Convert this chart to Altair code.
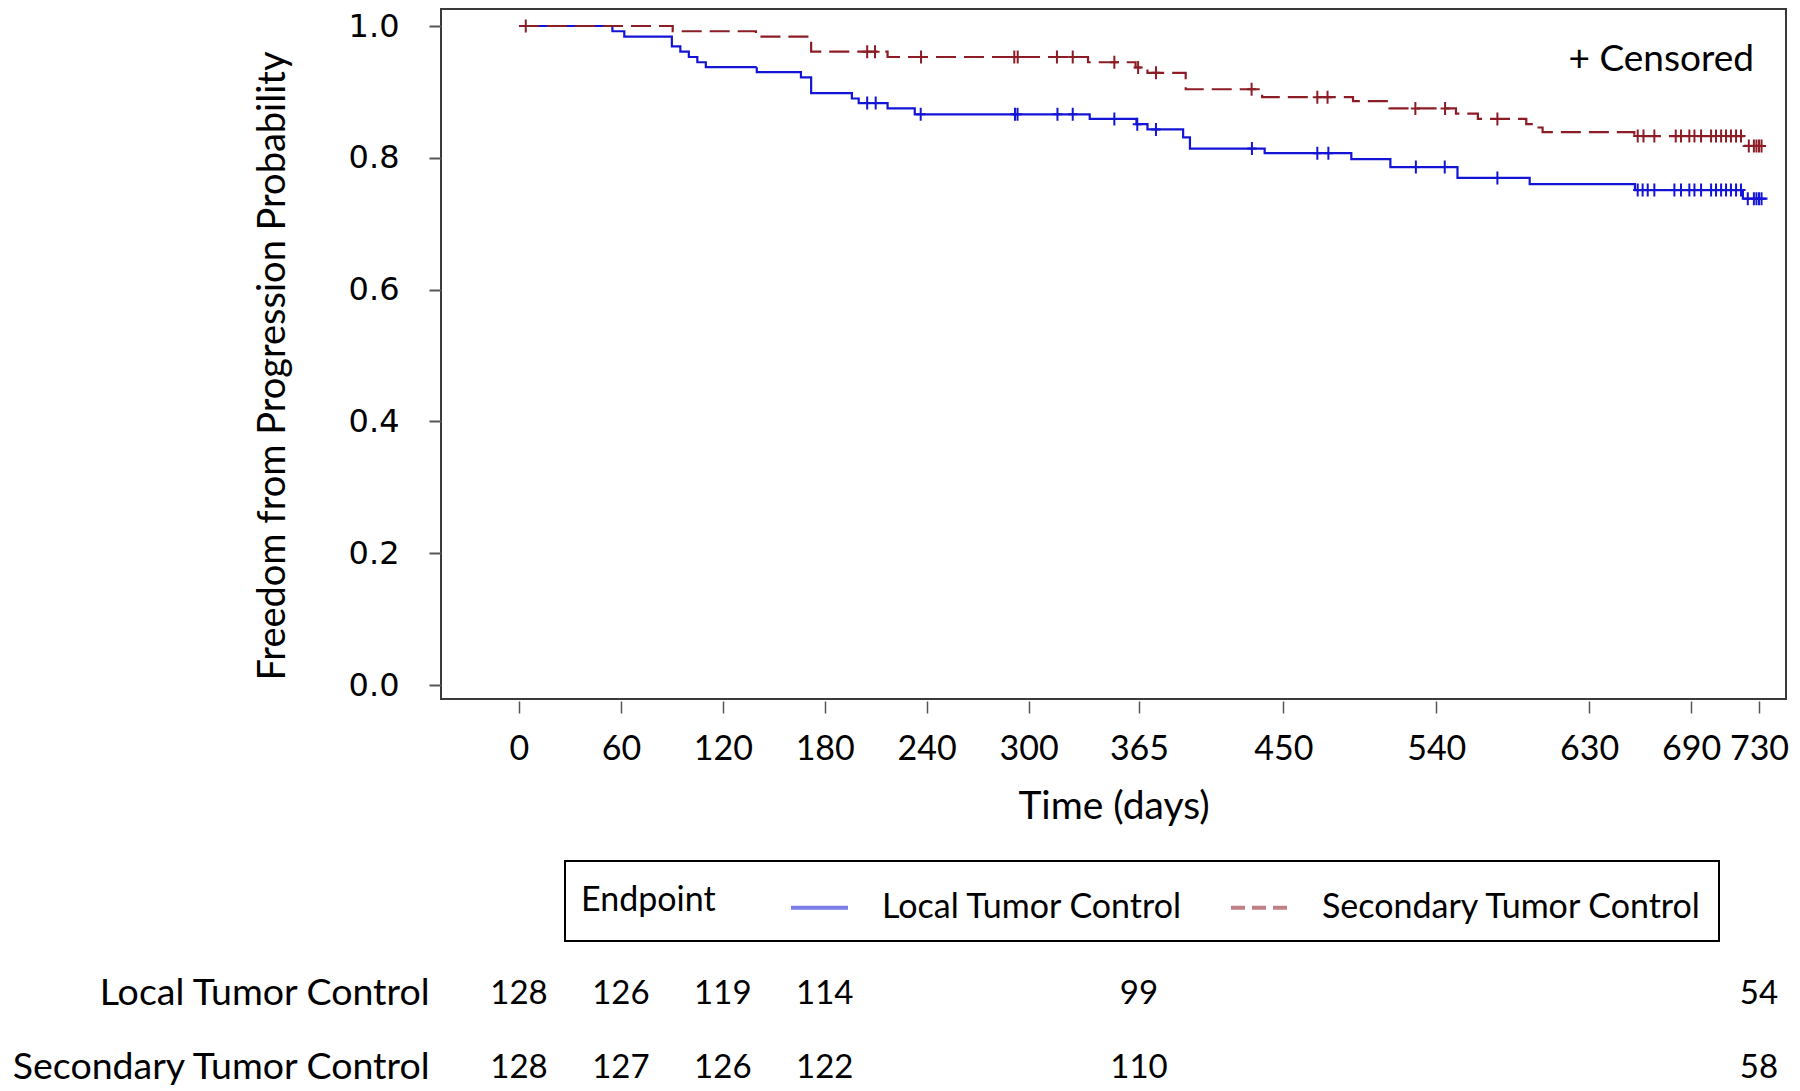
import altair as alt
import pandas as pd

FONT = "Lato"

series_names = ["Local Tumor Control", "Secondary Tumor Control"]
series_colors = ["#1414d6", "#8c1c26"]

# Kaplan-Meier step points: day of step, survival probability after the step
local_days = [0, 55, 62, 90, 95, 100, 105, 110, 140, 166, 172, 196, 200, 217, 233,
              336, 363.5, 370, 391, 395, 439, 490, 513, 552.5, 595, 657, 720.5, 735]
local_surv = [1.0, 0.992, 0.984, 0.969, 0.961, 0.953, 0.945, 0.9375, 0.930, 0.922, 0.898,
              0.890, 0.883, 0.875, 0.866, 0.859, 0.851, 0.843, 0.831, 0.814, 0.807, 0.798,
              0.786, 0.7695, 0.760, 0.751, 0.738, 0.738]
local_censor = [205, 210, 236.5, 292, 293.5, 317, 326, 350.5, 364, 375, 431.5, 470, 476.5,
                528, 545, 576, 658.6, 661.5, 664.5, 668.4, 680.2, 684.1, 689, 692, 695.9,
                701.8, 704.7, 707.7, 710.6, 713.5, 716.5, 719.4, 723.4, 727, 728.5, 730, 731.5]

sec_days = [0, 90.5, 139.5, 172, 217, 335, 363, 370, 392.5, 437.5, 491, 512.5, 551.6,
            564.5, 593, 599, 602.6, 656.6, 721, 735]
sec_surv = [1.0, 0.992, 0.984, 0.961, 0.953, 0.945, 0.937, 0.929, 0.904, 0.892, 0.886,
            0.875, 0.867, 0.859, 0.851, 0.846, 0.839, 0.833, 0.818, 0.818]
sec_censor = [4, 205, 209.6, 236.7, 291.6, 293.6, 316.7, 326, 350.5, 364.5, 375, 431.3,
              470, 476, 527.7, 545.2, 576, 658.6, 662, 668.4, 681, 684.1, 689, 692, 695.9,
              701.8, 704.7, 707.7, 710.6, 713.5, 716.5, 719.4, 724, 727, 728.5, 730, 731.5]

# Number at risk table
risk_days = [0, 60, 120, 180, 365, 730]
local_risk = [128, 126, 119, 114, 99, 54]
sec_risk = [128, 127, 126, 122, 110, 58]

x_tick_values = [0, 60, 120, 180, 240, 300, 365, 450, 540, 630, 690, 730]
y_tick_values = [0.0, 0.2, 0.4, 0.6, 0.8, 1.0]

annot_day = 727
annot_surv = 0.948
annot_text = "+ Censored"


def surv_at(days, surv, t):
    val = surv[0]
    for d, s in zip(days, surv):
        if d <= t:
            val = s
    return val


line_rows = []
for name, days, surv in [(series_names[0], local_days, local_surv),
                         (series_names[1], sec_days, sec_surv)]:
    for d, s in zip(days, surv):
        line_rows.append({"endpoint": name, "day": d, "surv": s})
lines_df = pd.DataFrame(line_rows)

cens_rows = []
for name, days, surv, cens in [(series_names[0], local_days, local_surv, local_censor),
                               (series_names[1], sec_days, sec_surv, sec_censor)]:
    for c in cens:
        cens_rows.append({"endpoint": name, "day": c, "surv": surv_at(days, surv, c)})
cens_df = pd.DataFrame(cens_rows)

risk_rows = []
for name, counts in [(series_names[0], local_risk), (series_names[1], sec_risk)]:
    for d, n in zip(risk_days, counts):
        risk_rows.append({"endpoint": name, "day": d, "n": n})
risk_df = pd.DataFrame(risk_rows)

annot_df = pd.DataFrame({"day": [annot_day], "surv": [annot_surv], "t": [annot_text]})

x_scale = alt.Scale(domain=[-45.9, 745.9], nice=False, zero=False)
y_scale = alt.Scale(domain=[-0.02124, 1.0258], nice=False, zero=False)
color_scale = alt.Scale(domain=series_names, range=series_colors)
dash_scale = alt.Scale(domain=series_names, range=[[1, 0], [14, 7]])

legend = alt.Legend(
    title="Endpoint", orient="none", legendX=124, legendY=-118, direction="horizontal",
    titleOrient="left", titleFont=FONT, titleFontSize=34, titleFontWeight="normal",
    titleColor="black", titlePadding=73, labelFont=FONT, labelFontSize=34,
    labelColor="black", labelLimit=800, labelOffset=32, columnPadding=40,
    symbolType="stroke", symbolSize=3249, symbolStrokeWidth=4, symbolOpacity=0.55,
    strokeColor="black", padding=16,
)

x_axis = alt.Axis(
    values=x_tick_values, format="d", title="Time (days)", titleFont=FONT,
    titleFontSize=39, titleFontWeight="normal", titleColor="black", titlePadding=21,
    labelFont=FONT, labelFontSize=34, labelColor="black", labelPadding=19,
    labelFlush=False, labelOverlap=False, tickSize=12, tickColor="#555555",
    tickWidth=1.5, offset=2, domain=False, grid=False,
)
y_axis = alt.Axis(
    values=y_tick_values, format=".1f", title="Freedom from Progression Probability",
    titleFont=FONT, titleFontSize=38, titleFontWeight="normal", titleColor="black",
    titlePadding=56, titleY=356.5, labelFont="DejaVu Sans", labelFontSize=32,
    labelColor="black", labelPadding=30, tickSize=12, tickColor="#555555", tickWidth=2,
    domain=False, grid=False,
)

lines = alt.Chart(lines_df).mark_line(interpolate="step-after", strokeWidth=2.2).encode(
    x=alt.X("day:Q", scale=x_scale, axis=x_axis),
    y=alt.Y("surv:Q", scale=y_scale, axis=y_axis),
    color=alt.Color("endpoint:N", scale=color_scale, legend=None),
    strokeDash=alt.StrokeDash("endpoint:N",
                              scale=alt.Scale(domain=series_names, range=[[1, 0], [20, 8]]),
                              legend=None),
)

censors = alt.Chart(cens_df).mark_point(
    shape="M0,-1L0,1M-0.7,0L0.7,0", filled=False, size=169, strokeWidth=2, opacity=1
).encode(
    x=alt.X("day:Q", scale=x_scale),
    y=alt.Y("surv:Q", scale=y_scale),
    stroke=alt.Stroke("endpoint:N", scale=color_scale, legend=None),
)

annot = alt.Chart(annot_df).mark_text(
    align="right", baseline="middle", font=FONT, fontSize=37, color="black"
).encode(
    x=alt.X("day:Q", scale=x_scale),
    y=alt.Y("surv:Q", scale=y_scale),
    text="t:N",
)

main = alt.layer(lines, censors, annot).properties(
    width=1345, height=690,
    view=alt.ViewBackground(stroke="#3a3a3a", strokeWidth=2),
)

risk_text = alt.Chart(risk_df).mark_text(font=FONT, fontSize=33, color="black").encode(
    x=alt.X("day:Q", scale=x_scale, axis=None),
    y=alt.Y("endpoint:N",
            scale=alt.Scale(type="point", domain=series_names, padding=0.2),
            axis=alt.Axis(title=None, ticks=False, domain=False, labelFont=FONT,
                          labelFontSize=37.5, labelColor="black", labelPadding=12,
                          labelLimit=800, minExtent=432)),
    text="n:Q",
)

# legend carrier: no rows drawn, the legend comes from the explicit scale domains
legend_layer = alt.Chart(lines_df).mark_line().encode(
    x=alt.X("day:Q", scale=x_scale, axis=None),
    color=alt.Color("endpoint:N", scale=color_scale, legend=legend),
    strokeDash=alt.StrokeDash("endpoint:N", scale=dash_scale, legend=legend),
).transform_filter("datum.day < -1000")

risk = alt.layer(risk_text, legend_layer).properties(
    width=1345, height=103.6, view=alt.ViewBackground(stroke="transparent")
)

chart = alt.vconcat(main, risk, spacing=32).resolve_scale(
    x="independent", y="independent", color="independent", strokeDash="independent"
).resolve_legend(
    color="independent", strokeDash="independent"
).properties(padding=0, background="white").configure_legend(strokeWidth=2)

chart.save("out.html", embed_options={"renderer": "svg", "actions": False})
